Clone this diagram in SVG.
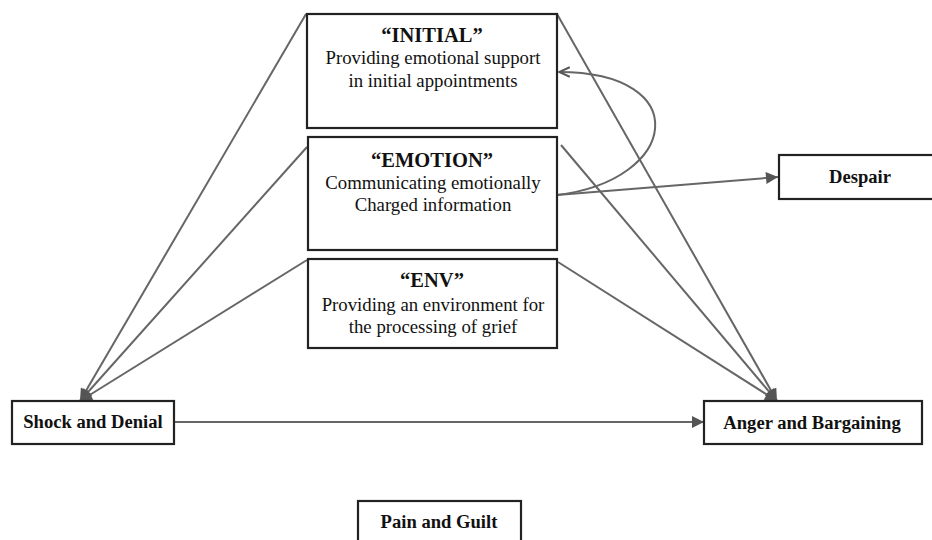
<svg xmlns="http://www.w3.org/2000/svg" width="932" height="540" viewBox="0 0 932 540">
<defs>
<marker id="ahBig" viewBox="0 0 10 10" refX="10" refY="5" markerWidth="14" markerHeight="12" markerUnits="userSpaceOnUse" orient="auto">
<path d="M0,0 L10,5 L0,10 z" fill="#555"/>
</marker>
<marker id="ahOpen" viewBox="0 0 10 10" refX="9" refY="5" markerWidth="12" markerHeight="12" markerUnits="userSpaceOnUse" orient="auto">
<path d="M0,1 L9,5 L0,9" fill="none" stroke="#555" stroke-width="1.6"/>
</marker>
</defs>
<style>
.box{fill:#fff;stroke:#222;stroke-width:2.2}
.ln{fill:none;stroke:#666;stroke-width:2}
.t{font-family:"Liberation Serif","Times New Roman",serif;fill:#111;text-anchor:middle}
.title{font-size:20.5px;font-weight:bold}
.body{font-size:18.8px}
.lbl{font-size:18.6px;font-weight:bold}
</style>
<rect width="932" height="540" fill="#fff"/>
<g id="connectors">
<line class="ln" x1="306" y1="14" x2="80" y2="401" marker-end="url(#ahBig)"/>
<line class="ln" x1="307" y1="147" x2="80" y2="401" marker-end="url(#ahBig)"/>
<line class="ln" x1="307" y1="260" x2="80" y2="401" marker-end="url(#ahBig)"/>
<line class="ln" x1="557" y1="14" x2="777" y2="401" marker-end="url(#ahBig)"/>
<line class="ln" x1="561" y1="145" x2="777" y2="401" marker-end="url(#ahBig)"/>
<line class="ln" x1="558" y1="262" x2="777" y2="401" marker-end="url(#ahBig)"/>
<line class="ln" x1="174" y1="422" x2="704" y2="422" marker-end="url(#ahBig)"/>
<line class="ln" x1="557" y1="195" x2="778" y2="177" marker-end="url(#ahBig)"/>
<path class="ln" d="M557,195 C680,180 695,72 559,72" marker-end="url(#ahOpen)"/>
</g>
<g id="initial">
<rect class="box" x="307" y="14" width="250" height="114"/>
<text class="t title" x="432" y="42">“INITIAL”</text>
<text class="t body" x="433" y="64">Providing emotional support</text>
<text class="t body" x="433" y="87">in initial appointments</text>
</g>
<g id="emotion">
<rect class="box" x="308" y="137" width="249" height="113"/>
<text class="t title" x="432" y="167">“EMOTION”</text>
<text class="t body" x="433" y="189">Communicating emotionally</text>
<text class="t body" x="433" y="211">Charged information</text>
</g>
<g id="env">
<rect class="box" x="308" y="259" width="249" height="89"/>
<text class="t title" x="432" y="287">“ENV”</text>
<text class="t body" x="433" y="311">Providing an environment for</text>
<text class="t body" x="433" y="333">the processing of grief</text>
</g>
<g id="shock">
<rect class="box" x="12" y="401" width="162" height="43"/>
<text class="t lbl" x="93" y="428">Shock and Denial</text>
</g>
<g id="anger">
<rect class="box" x="704" y="401" width="218" height="43"/>
<text class="t lbl" x="812" y="429">Anger and Bargaining</text>
</g>
<g id="despair">
<rect class="box" x="779" y="155" width="170" height="44"/>
<text class="t lbl" x="860" y="183">Despair</text>
</g>
<g id="pain">
<rect class="box" x="358" y="501" width="163" height="50"/>
<text class="t lbl" x="439" y="528">Pain and Guilt</text>
</g>
</svg>
